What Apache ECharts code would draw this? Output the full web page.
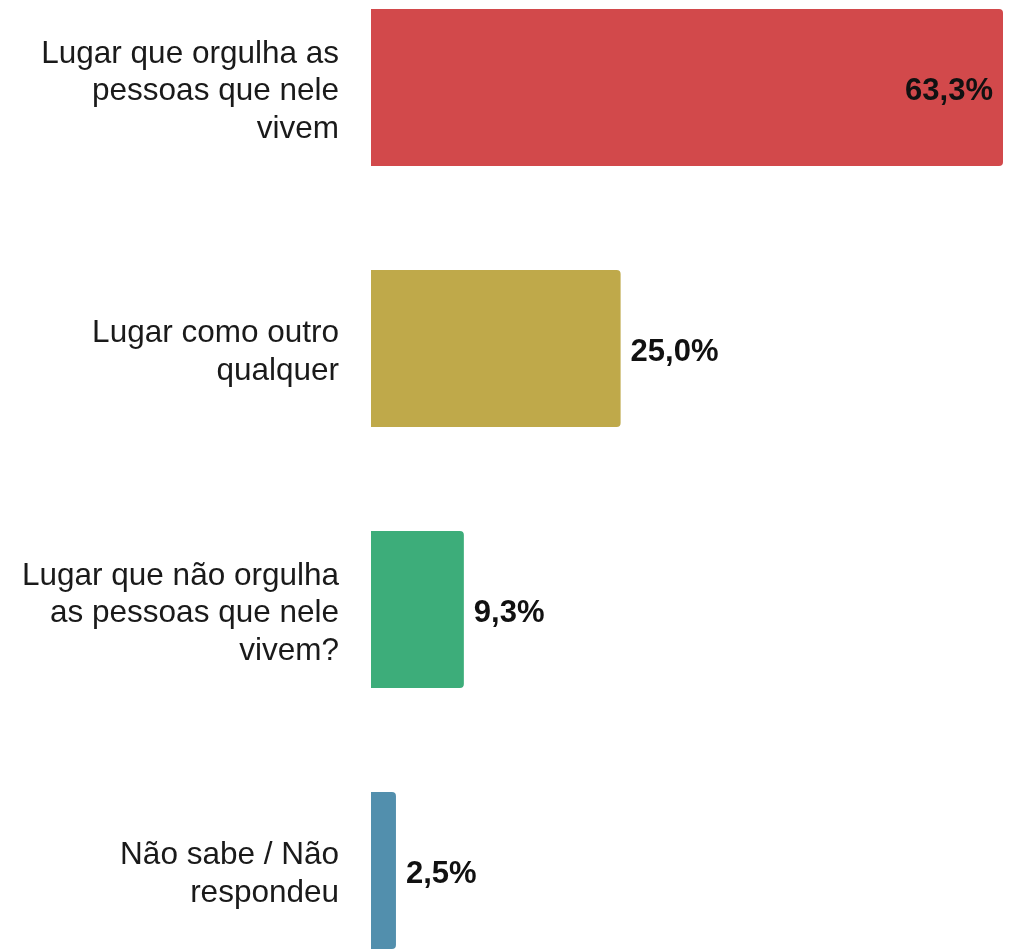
<!DOCTYPE html>
<html>
<head>
<meta charset="utf-8">
<script src="https://cdn.jsdelivr.net/npm/echarts@6/dist/echarts.min.js"></script>
<style>
html,body{margin:0;padding:0;background:#fff;overflow:hidden;width:1011px;height:949px;position:relative;}
#chart{position:absolute;left:0;top:-43px;width:1011px;height:1050px;}
</style>
</head>
<body>
<div id="chart"></div>
<script>
const categories = [
  "Lugar que orgulha as\npessoas que nele\nvivem",
  "Lugar como outro\nqualquer",
  "Lugar que não orgulha\nas pessoas que nele\nvivem?",
  "Não sabe / Não\nrespondeu"
];
const values = [63.3, 25.0, 9.3, 2.5];
const colors = ["#D2494B", "#BFA94A", "#3DAD7A", "#528FAD"];

const FONT = "Arial, 'Liberation Sans', sans-serif";
const chart = echarts.init(document.getElementById('chart'));
chart.setOption({
  animation: false,
  grid: [
    { left: 371, right: 8, top: 0, height: 1044, containLabel: false },
    { left: 371, right: 8, top: 4, height: 1044, containLabel: false }
  ],
  xAxis: [
    { gridIndex: 0, type: 'value', min: 0, max: 63.3, show: false },
    { gridIndex: 1, type: 'value', min: 0, max: 63.3, show: false }
  ],
  yAxis: [
    {
      gridIndex: 0, type: 'category', inverse: true, data: categories,
      axisLine: { show: false }, axisTick: { show: false }, axisLabel: { show: false }
    },
    {
      gridIndex: 1, type: 'category', inverse: true, data: categories,
      axisLine: { show: false }, axisTick: { show: false },
      axisLabel: {
        margin: 32, fontSize: 31.5, lineHeight: 37.5, color: '#1a1a1a',
        fontFamily: FONT, align: 'right'
      }
    }
  ],
  series: [{
    type: 'bar',
    xAxisIndex: 0, yAxisIndex: 0,
    barWidth: 157,
    data: values.map((v, i) => ({
      value: v,
      itemStyle: { color: colors[i], borderRadius: [0, 4, 4, 0] },
      label: i === 0 ? { position: 'insideRight', distance: 10 } : { position: 'right', distance: 10 }
    })),
    label: {
      show: true, fontSize: 31, fontWeight: 'bold', color: '#111',
      fontFamily: FONT, offset: [0, 4],
      formatter: p => p.value.toFixed(1).replace('.', ',') + '%'
    }
  }]
});
</script>
</body>
</html>
